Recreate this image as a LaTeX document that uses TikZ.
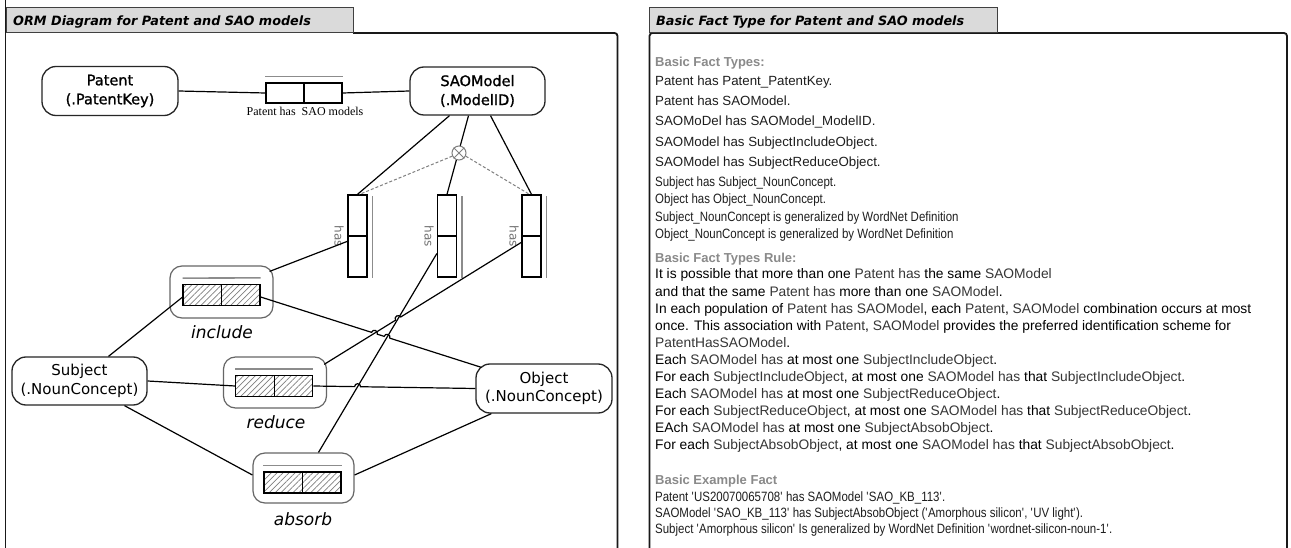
\documentclass[tikz,border=0pt]{standalone}
\usepackage{fontspec}
\setmainfont{Liberation Sans}
\newfontfamily\cond{Liberation Sans}[FakeStretch=0.85]
\newfontfamily\dv{DejaVu Sans}[ItalicFont={DejaVu Sans Oblique},BoldFont={DejaVu Sans Bold},BoldItalicFont={DejaVu Sans Bold Oblique}]
\newfontfamily\dvb{DejaVu Sans}[FakeBold=1.2]
\newfontfamily\ser{Liberation Serif}
\usetikzlibrary{calc,intersections,patterns.meta}

\definecolor{tabgray}{HTML}{DADADA}
\definecolor{headgray}{HTML}{8A8A8A}
\definecolor{namec}{HTML}{363636}
\definecolor{plainc}{HTML}{1E1E1E}
\newcommand\nm[1]{\textcolor{namec}{#1}}
\newcommand\sq{\XeTeXglyph\XeTeXcharglyph"0027\relax}

\begin{document}
\begin{tikzpicture}[x=1pt,y=-1pt,
  entity/.style={draw=black!85, line width=1.3pt, rounded corners=14pt,
    minimum width=136pt, minimum height=49pt, align=center, inner sep=0pt,
    font=\dvb\fontsize{14.5}{19}\selectfont},
  role/.style={draw, line width=1.3pt, minimum width=38pt, minimum height=20pt, inner sep=0pt},
  hrole/.style={role, minimum width=38.5pt, minimum height=21pt,
    pattern={Lines[angle=45, distance=4.2pt, line width=0.7pt]}, pattern color=black!50},
  vrole/.style={draw, line width=1.3pt, minimum width=19pt, minimum height=41pt, inner sep=0pt},
  factbox/.style={draw=black!60, line width=1.2pt, rounded corners=12pt, inner sep=0pt},
  ubar/.style={draw=black!45, line width=1.6pt},
  conn/.style={line width=1.2pt, black},
  constr/.style={black!50, line width=1pt, dash pattern=on 3pt off 2pt},
  fname/.style={font=\dv\itshape\fontsize{17}{20}\selectfont, inner sep=0pt},
  haslbl/.style={font=\dv\fontsize{12}{13}\selectfont, text=black!55, rotate=-90, inner sep=0pt},
  tabst/.style={fill=tabgray, draw=black!75, line width=1pt},
  frame/.style={draw=black!90, line width=1.8pt},
  tabtitle/.style={font=\dv\bfseries\itshape\fontsize{12.8}{15}\selectfont, anchor=base west, inner sep=0pt},
  txt/.style={font=\fontsize{13.3}{15}\selectfont, anchor=base west, inner sep=0pt, text=plainc},
  ctxt/.style={txt, font=\cond\fontsize{13.5}{15}\selectfont},
  rtxt/.style={txt, font=\fontsize{13.8}{16}\selectfont, text=black},
  head/.style={txt, font=\bfseries\fontsize{13}{15}\selectfont, text=headgray}]

\useasboundingbox (0,0) rectangle (1291,548);
\fill[white] (0,0) rectangle (1291,548);

% ---------------- left panel: frame and tab ----------------
\draw[frame] (5.5,0) -- (5.5,548);
\draw[frame, rounded corners=3pt] (353,33) -- (617.5,33) -- (617.5,548);
\draw[tabst] (6,33) rectangle (353,8);
\node[tabtitle] (ltitle) at (13,26) {ORM Diagram for Patent and SAO models};

% ---------------- right panel: frame and tab ----------------
\draw[frame, rounded corners=3pt] (649.5,548) -- (649.5,33) -- (1287,33) -- (1287,548);
\draw[tabst] (649,33) rectangle (997,8);
\node[tabtitle] (rtitle) at (656,26) {Basic Fact Type for Patent and SAO models};

% ---------------- object types ----------------
\node[entity] (pat) at (110,91) {Patent\\(.PatentKey)};
\node[entity, minimum width=135pt, minimum height=48pt] (sao) at (477.5,91) {SAOModel\\(.ModelID)};
\node[entity, minimum width=135pt, minimum height=48pt, font=\dv\fontsize{15}{18.5}\selectfont] (subj) at (79.5,381) {Subject\\(.NounConcept)};
\node[entity, font=\dv\fontsize{15}{18.5}\selectfont] (obj) at (544,388.5) {Object\\(.NounConcept)};

% ---------------- fact type: Patent has SAO models ----------------
\node[role] (pa) at (285,93) {};
\node[role] (pb) at (323,93) {};
\draw[ubar] ($(pa.north west)+(0,-6)$) -- ($(pb.north east)+(0,-6)$);
\node[font=\ser\fontsize{12}{14}\selectfont, inner sep=0pt] (plab) at (305,111) {Patent has\ \ SAO models};

% ---------------- vertical "has" fact types ----------------
\foreach \n/\x/\lx in {1/357.5/339, 2/447/429, 3/531.5/514} {
  \node[vrole] (h\n t) at (\x,215.5) {};
  \node[vrole] (h\n b) at (\x,256.5) {};
  \draw[ubar] ($(h\n t.north east)+(5,2)$) -- ($(h\n t.south east)+(5,-1)$);
  \draw[ubar] ($(h\n b.north east)+(5,1)$) -- ($(h\n b.south east)+(5,0)$);
  \node[haslbl] (hl\n) at (\lx,236) {has};
}

% ---------------- fact types with hatched roles ----------------
\node[factbox, minimum width=103pt, minimum height=52pt] (inc) at (221.5,292) {};
\node[hrole] (incL) at (202.25,295) {};
\node[hrole] (incR) at (240.75,295) {};
\draw[ubar] ($(incL.north west)+(0,-6)$) -- ($(incR.north east)+(0,-6)$);
\node[fname] (incT) at (222,332) {include};

\node[factbox, minimum width=103pt, minimum height=51pt] (red) at (275,382.5) {};
\node[hrole] (redL) at (255,386) {};
\node[hrole] (redR) at (293.5,386) {};
\node[fname] (redT) at (276,422) {reduce};
\draw[ubar] ($(redL.north west)+(0,-6)$) -- ($(redR.north east)+(0,-6)$);

\node[factbox, minimum width=101pt, minimum height=50pt] (abs) at (303.5,478) {};
\node[hrole] (absL) at (283.25,482.5) {};
\node[hrole] (absR) at (321.75,482.5) {};
\draw[ubar] ($(absL.north west)+(0,-6)$) -- ($(absR.north east)+(0,-6)$);
\node[fname] (absT) at (303,519) {absorb};

% ---------------- simple connectors ----------------
\draw[conn] (pat.east) -- (pa.west);
\draw[conn] (pb.east) -- (sao.west);
\draw[conn] ($(sao.south)+(-28,0)$) -- (h1t.north);
\draw[conn] ($(sao.south)+(-9,0)$) -- (h2t.north);
\draw[conn] ($(sao.south)+(13,0)$) -- (h3t.north);
\draw[conn] ($(inc.north east)+(-4,6)$) -- ($(h1b.north west)+(0,6)$);
\draw[conn] ($(incL.west)+(0,2)$) -- ($(subj.north)+(29,0)$);
\draw[conn] (subj.east) -- (redL.west);
\draw[conn] ($(subj.south)+(45,0)$) -- ($(abs.west)+(0,-3)$);
\draw[conn] ($(abs.east)+(0,-3)$) -- ($(obj.south west)+(16,0)$);

% ---------------- exclusion constraint ----------------
\node[draw=black!50, fill=white, circle, minimum size=14pt, inner sep=0pt, line width=1pt] (xc) at (459,153) {};
\draw[black!50, line width=1pt] (xc.45) -- (xc.225) (xc.135) -- (xc.315);
\draw[constr] (xc.205) -- ($(h1t.north)+(2,0)$);
\draw[constr] (xc.-25) -- ($(h3t.north)+(-2,0)$);

% ---------------- crossing connectors with line jumps ----------------
\coordinate (A9) at ($(incR.east)+(0,2)$);
\coordinate (B9) at ($(obj.north west)+(6,4)$);
\coordinate (A11) at (redR.east);
\coordinate (B11) at (obj.west);
\coordinate (A12) at ($(red.north east)+(-3,8)$);
\coordinate (B12) at ($(h3b.north west)+(0,7)$);
\coordinate (A13) at ($(abs.north)+(15,0)$);
\coordinate (B13) at ($(h2b.west)+(0,-3)$);
\path[name path=p9] (A9) -- (B9);
\path[name path=p11] (A11) -- (B11);
\path[name path=p12] (A12) -- (B12);
\path[name path=p13] (A13) -- (B13);
\path[name intersections={of=p9 and p12, by=x912}];
\path[name intersections={of=p9 and p13, by=x913}];
\path[name intersections={of=p12 and p13, by=x1213}];
\path[name intersections={of=p11 and p13, by=x1113}];

\draw[conn] (A13) -- (B13);
\draw[conn] let \p1=($(B9)-(A9)$), \n1={atan2(\y1,\x1)} in
  (A9) -- ($(x912)!3pt!(A9)$) arc[start angle=\n1+180, end angle=\n1, radius=3pt]
  -- ($(x913)!3pt!(A9)$) arc[start angle=\n1+180, end angle=\n1, radius=3pt] -- (B9);
\draw[conn] let \p1=($(B11)-(A11)$), \n1={atan2(\y1,\x1)} in
  (A11) -- ($(x1113)!3pt!(A11)$) arc[start angle=\n1+180, end angle=\n1, radius=3pt] -- (B11);
\draw[conn] let \p1=($(B12)-(A12)$), \n1={atan2(\y1,\x1)} in
  (A12) -- ($(x1213)!3pt!(A12)$) arc[start angle=\n1+180, end angle=\n1, radius=3pt] -- (B12);

% ---------------- fact type verbalisation ----------------
\node[head] (r1) at (655,66.5) {Basic Fact Types:};
\node[txt] (r2) at (655,85.5) {Patent has Patent\_PatentKey.};
\node[txt] (r3) at (655,105.5) {Patent has SAOModel.};
\node[txt] (r4) at (655,125.5) {SAOMoDel has SAOModel\_ModelID.};
\node[txt] (r5) at (655,146.5) {SAOModel has SubjectIncludeObject.};
\node[txt] (r6) at (655,166.5) {SAOModel has SubjectReduceObject.};
\node[ctxt] (r7) at (655,186.5) {Subject has Subject\_NounConcept.};
\node[ctxt] (r8) at (655,203.5) {Object has Object\_NounConcept.};
\node[ctxt] (r9) at (655,221.5) {Subject\_NounConcept is generalized by WordNet Definition};
\node[ctxt] (r10) at (655,238.5) {Object\_NounConcept is generalized by WordNet Definition};

\node[head] (r11) at (655,262) {Basic Fact Types Rule:};
\node[rtxt] (r12) at (655,279) {It is possible that more than one \nm{Patent has} the same \nm{SAOModel}};
\node[rtxt] (r13) at (655,296) {and that the same \nm{Patent has} more than one \nm{SAOModel}.};
\node[rtxt] (r14) at (655,313) {In each population of \nm{Patent has SAOModel}, each \nm{Patent}, \nm{SAOModel} combination occurs at most};
\node[rtxt] (r15) at (655,330) {once. This association with \nm{Patent}, \nm{SAOModel} provides the preferred identification scheme for};
\node[rtxt] (r16) at (655,347) {\nm{PatentHasSAOModel}.};
\node[rtxt] (r17) at (655,364) {Each \nm{SAOModel has} at most one \nm{SubjectIncludeObject}.};
\node[rtxt] (r18) at (655,381) {For each \nm{SubjectIncludeObject}, at most one \nm{SAOModel has} that \nm{SubjectIncludeObject}.};
\node[rtxt] (r19) at (655,398) {Each \nm{SAOModel has} at most one \nm{SubjectReduceObject}.};
\node[rtxt] (r20) at (655,415) {For each \nm{SubjectReduceObject}, at most one \nm{SAOModel has} that \nm{SubjectReduceObject}.};
\node[rtxt] (r21) at (655,432) {EAch \nm{SAOModel has} at most one \nm{SubjectAbsobObject}.};
\node[rtxt] (r22) at (655,449) {For each \nm{SubjectAbsobObject}, at most one \nm{SAOModel has} that \nm{SubjectAbsobObject}.};

\node[head] (r23) at (655,484) {Basic Example Fact};
\node[ctxt] (r24) at (655,501) {Patent \sq US20070065708\sq{} has SAOModel \sq SAO\_KB\_113\sq.};
\node[ctxt] (r25) at (655,517) {SAOModel \sq SAO\_KB\_113\sq{} has SubjectAbsobObject (\sq Amorphous silicon\sq, \sq UV light\sq).};
\node[ctxt] (r26) at (655,533) {Subject \sq Amorphous silicon\sq{} Is generalized by WordNet Definition \sq wordnet-silicon-noun-1\sq.};
\end{tikzpicture}
\end{document}
